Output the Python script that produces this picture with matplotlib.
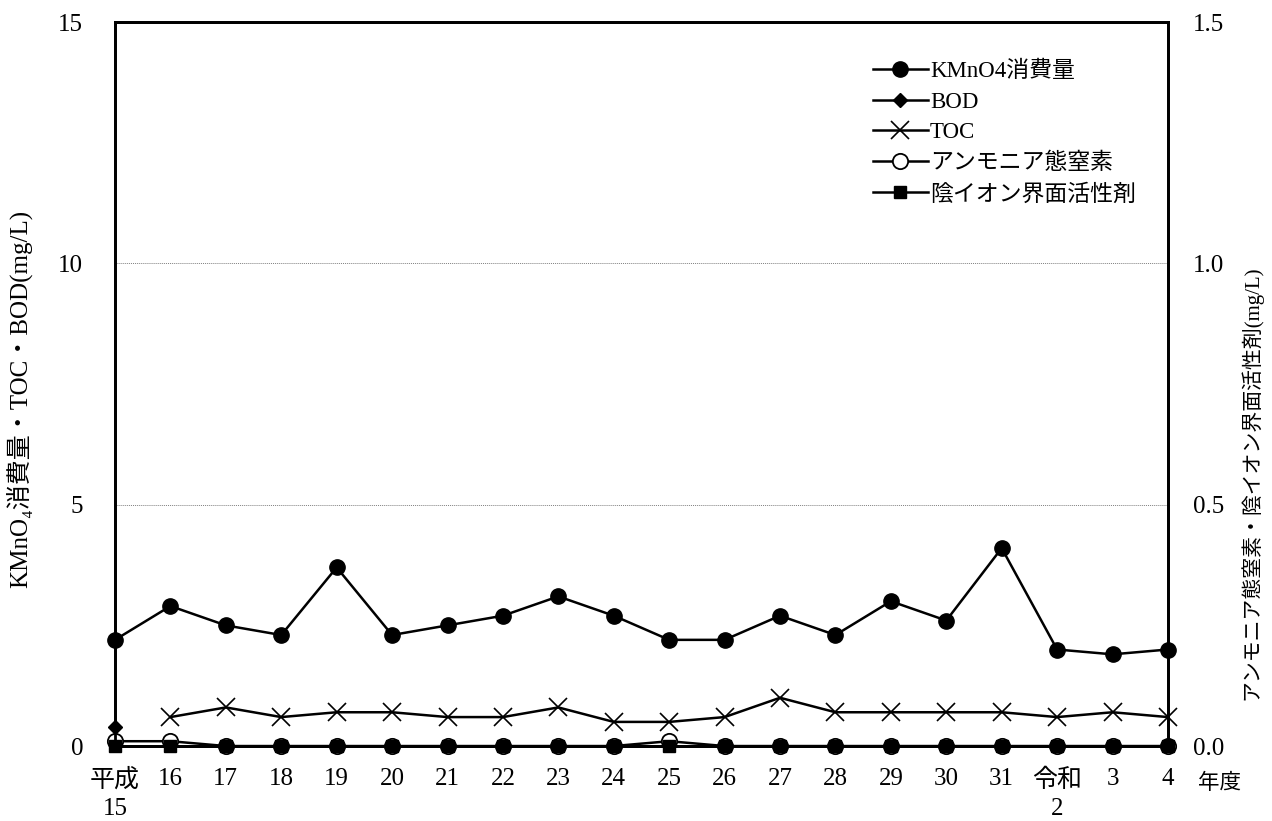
import matplotlib
matplotlib.use("Agg")
import matplotlib.pyplot as plt
import numpy as np

plt.rcParams['font.family'] = ['Liberation Serif', 'Noto Sans CJK JP', 'DejaVu Serif']

years = ['平成\n15', '16', '17', '18', '19', '20', '21', '22', '23', '24', '25',
         '26', '27', '28', '29', '30', '31', '令和\n2', '3', '4']
kmno4 = [2.2, 2.9, 2.5, 2.3, 3.7, 2.3, 2.5, 2.7, 3.1, 2.7, 2.2,
         2.2, 2.7, 2.3, 3.0, 2.6, 4.1, 2.0, 1.9, 2.0]
bod = [0.4] + [np.nan] * 19
toc = [np.nan, 0.6, 0.8, 0.6, 0.7, 0.7, 0.6, 0.6, 0.8, 0.5, 0.5,
       0.6, 1.0, 0.7, 0.7, 0.7, 0.7, 0.6, 0.7, 0.6]
nh4 = [0.01, 0.01, 0, 0, 0, 0, 0, 0, 0, 0, 0.01,
       0, 0, 0, 0, 0, 0, 0, 0, 0]
surf = [0] * 20

x = np.arange(len(years))
fs = 18

fig = plt.figure(figsize=(12.72, 8.21), dpi=100)
ax = fig.add_axes([0.0904, 0.0913, 0.8278, 0.8819])
ax2 = ax.twinx()

kw = dict(color='black', lw=1.8, clip_on=False)
l1, = ax.plot(x, kmno4, '-o', ms=11, label='KMnO4消費量', **kw)
l2, = ax.plot(x, bod, '-D', ms=7, label='BOD', **kw)
l3, = ax.plot(x, toc, '-x', ms=13, mew=1.2, label='TOC', **kw)
l4, = ax2.plot(x, nh4, '-o', mfc='white', ms=11, mew=1.3, label='アンモニア態窒素', **kw)
l5, = ax2.plot(x, surf, '-s', ms=9, label='陰イオン界面活性剤', **kw)

ax.set_xlim(0, 19)
ax.set_ylim(0, 15)
ax2.set_ylim(0, 1.5)
ax.set_yticks([0, 5, 10, 15])
ax2.set_yticks([0, 0.5, 1.0, 1.5])
ax2.set_yticklabels(['0.0', '0.5', '1.0', '1.5'])
ax.set_xticks(x)
ax.set_xticklabels(years, fontsize=fs, linespacing=1.35, va='top')
ax.tick_params(axis='x', length=0, pad=16)
ax.tick_params(axis='y', length=0, labelsize=fs, pad=23)
ax2.tick_params(axis='y', length=0, labelsize=fs, pad=18)

ax.grid(axis='y', color='gray', lw=0.7, ls=(0, (1, 1)))
for a in (ax, ax2):
    for s in a.spines.values():
        s.set_linewidth(2)

ax.set_ylabel('KMnO₄消費量・TOC・BOD(mg/L)', fontsize=fs)
ax.yaxis.set_label_coords(-0.079, 0.48)
ax2.set_ylabel('アンモニア態窒素・陰イオン界面活性剤(mg/L)', fontsize=15)
ax2.yaxis.set_label_coords(1.068, 0.363)
fig.text(0.942, 0.045, '年度', fontsize=15.5, ha='left', va='center')

ax.legend(handles=[l1, l2, l3, l4, l5], loc='upper left', bbox_to_anchor=(0.7, 0.975),
          frameon=False, fontsize=16.5, handlelength=2.4, handletextpad=0.1,
          labelspacing=0.42)

fig.savefig('out.png', dpi=100)
